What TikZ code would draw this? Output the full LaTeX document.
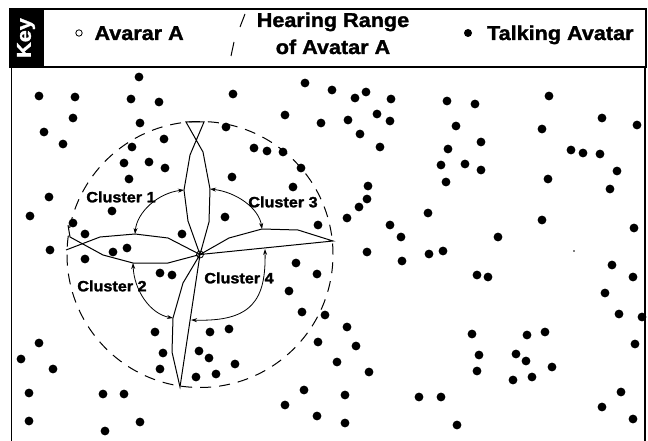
\documentclass[tikz,border=0pt]{standalone}
\usepackage{fontspec}
\setmainfont{Liberation Sans}
\newfontfamily\keyfont[FakeStretch=1.08,BoldFeatures={FakeBold=1.5}]{Liberation Sans}
\usepackage{tikz}
\usetikzlibrary{arrows.meta, calc}

\begin{document}
\begin{tikzpicture}[x=1pt, y=-1pt, line width=1pt,
    ar/.style={{Stealth[length=6pt,width=4pt]}-{Stealth[length=6pt,width=4pt]}, line width=0.8pt},
    lobe/.style={line width=1pt, line join=miter},
    keytxt/.style={font=\keyfont\bfseries\fontsize{20}{22}\selectfont, inner sep=0pt},
    cltxt/.style={font=\keyfont\bfseries\fontsize{15}{17}\selectfont, inner sep=0pt},
    avatar/.style={circle, draw, line width=0.8pt, minimum size=7pt, inner sep=0pt}]
    \def\R{133}   % hearing range radius
    \def\rdot{4.4} % talking avatar dot radius
    \useasboundingbox (0,0) rectangle (648,441);

    % ---------- key ----------
    \fill (10,9) rectangle (44,67);
    \draw[line width=1.2pt] (10,9) rectangle (646,67);
    \node[keytxt, text=white, rotate=90] (keyhd) at (26,38) {Key};
    \draw[line width=0.8pt] (79,33) circle (3.2pt);
    \node[keytxt, anchor=base west] (keyA) at (94,40) {Avarar A};
    \draw (240,27) -- (245,14);
    \draw (231,56) -- (234,42);
    \node[keytxt, anchor=base] (keyrng) at (333,27) {Hearing Range};
    \node[keytxt, anchor=base] (keyrng2) at (333,54) {of Avatar A};
    \fill (468,33) circle (4pt);
    \node[keytxt, anchor=base east] (keytalk) at (634,40) {Talking Avatar};

    % ---------- frame ----------
    \draw[line width=1.2pt] (11.5,441) -- (11.5,67) -- (645,67) -- (645,441);

    % ---------- talking avatars ----------
    \foreach \x/\y in {139/77, 39/96, 75/97, 131/99, 159/102, 233/94, 305/83, 332/90,
        355/98, 366/92, 391/99, 447/101, 475/104, 549/96,
        73/118, 44/132, 140/123, 226/127, 285/115, 321/123, 348/120, 377/114,
        390/121, 360/134, 456/126, 542/129, 602/118, 637/125,
        63/144, 132/147, 164/139, 254/148, 267/151, 283/152, 380/147, 448/149,
        481/142, 571/150, 583/153, 600/154,
        124/163, 149/162, 165/168, 301/168, 441/165, 465/164, 481/170, 617/171,
        129/179, 232/177, 293/187, 368/186, 446/182, 548/179, 610/189,
        49/197, 367/199, 359/207, 30/216, 112/211, 225/217, 73/223, 318/225,
        347/218, 428/213, 542/220,
        85/234, 182/234, 390/225, 401/237, 498/237, 634/228,
        50/250, 113/252, 127/248, 85/259, 367/252, 429/254, 443/251, 402/261,
        160/273, 172/275, 296/263, 317/274, 289/291, 477/275, 488/277, 612/265,
        633/277, 605/293,
        302/312, 325/315, 619/314, 642/317,
        155/332, 210/332, 229/329, 347/327, 472/334, 527/335, 545/332,
        318/342, 39/343, 356/346, 635/344,
        21/359, 53/369, 163/353, 199/351, 209/358, 235/364, 160/369, 196/377,
        216/374, 337/362, 369/372, 479/355, 516/354, 526/361, 552/367, 477/371,
        513/380, 532/377,
        29/393, 103/394, 124/394, 304/390, 285/405, 317/416, 29/421, 105/431,
        140/422, 345/395, 419/397, 441/397, 621/392, 602/407, 345/423, 457/425,
        633/419}
      \fill (\x,\y) circle (\rdot pt);
    \fill (574,251) circle (0.8pt);

    % ---------- avatar A and hearing range ----------
    \node[avatar] (A) at (200,254.5) {};
    \draw[dash pattern=on 11pt off 8pt] (A.center) circle (\R pt);

    % ---------- cluster boundaries ----------
    \coordinate (uL) at (184,190);
    \coordinate (uR) at (210,189);
    \coordinate (lU) at (135,234);
    \coordinate (lD) at (133,263);
    \coordinate (rU) at (262,229);
    \coordinate (rE) at (333,241);
    \coordinate (bL) at (173,318);
    \coordinate (bE) at (180,387);
    % up
    \draw[lobe] (A.center) -- (188,221) -- (uL) -- (190,155) -- (204,122) -- (186,122)
      -- (203,152) -- (uR) -- (209,222) -- (A.center);
    % left
    \draw[lobe] (A.center) -- (168,238) -- (lU) -- (100,237) -- (66,250);
    \draw[lobe] (68,225) -- (70,237) -- (103,255) -- (lD) -- (168,263) -- (A.center);
    % right
    \draw[lobe] (A.center) -- (229,238) -- (rU) -- (298,230) -- (rE) -- (A.center);
    % down
    \draw[lobe] (A.center) -- (183,283) -- (bL) -- (172,352) -- (bE) -- (A.center);

    % ---------- cluster arrows ----------
    \coordinate (c4a) at (265,249);
    \coordinate (c4b) at (191,320);
    \draw[ar] (lU) .. controls (137,212) and (158,193) .. (uL);
    \draw[ar] (uR) .. controls (236,192) and (259,208) .. (rU);
    \draw[ar] (lD) .. controls (134,290) and (150,314) .. (bL);
    \draw[ar] (c4a) .. controls (266,300) and (252,322) .. (c4b);

    % ---------- cluster labels ----------
    \node[cltxt] (cl1) at (121,197) {Cluster 1};
    \node[cltxt] (cl3) at (283,202) {Cluster 3};
    \node[cltxt] (cl2) at (112,286) {Cluster 2};
    \node[cltxt] (cl4) at (239,278) {Cluster 4};

\end{tikzpicture}
\end{document}
